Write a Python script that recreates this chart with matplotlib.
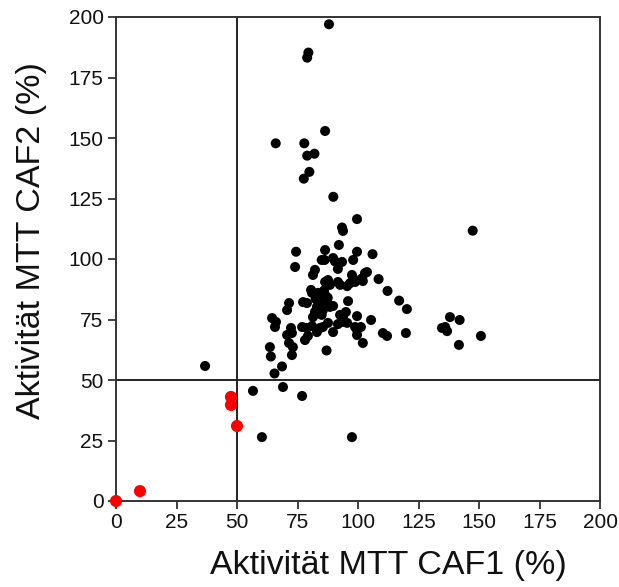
import numpy as np
import matplotlib.pyplot as plt

plt.rcParams['font.family'] = ['Liberation Sans', 'DejaVu Sans']

# Daten: Aktivität MTT CAF1 / CAF2 (%)
caf1_black = [88, 79.5, 79, 86.4, 66, 77.8, 82, 79, 79.9, 77.6, 89.8,
              99.6, 93.4, 93.8, 74.4, 74, 92.1, 86.4, 99.6, 106, 85, 86.2,
              89.7, 90.5, 93.4, 98, 91.7, 82.2, 81.4, 103.7, 102.9, 97.5, 98,
              108.5, 86.4, 87.6, 88.4, 91.7, 92.6, 95.5, 96.7, 98.8, 101.7,
              102, 80.6, 81, 112.2, 117, 120.2, 71.5, 70.7, 77.3, 78.9, 84.3,
              85.5, 87.2, 88.4, 89.7, 95.9, 83, 82.2, 81.4, 83.5, 85.5, 85,
              95, 93.8, 92.6, 99.6, 105.4, 64.5, 66.1, 65.7, 72.3, 70.7, 72.7,
              76.9, 78.9, 81, 83, 84.3, 85.5, 87.6, 89.7, 91.7, 93.8, 95.5,
              98.8, 99.6, 101.2, 99.6, 110.3, 112, 119.8, 71.5, 73.1, 72.7,
              78.1, 79.3, 102, 87, 63.6, 64, 68.6, 65.5, 147.4, 138, 142,
              134.7, 136, 136.8, 141.7, 150.8, 36.8, 56.6, 69, 76.9, 60.3,
              97.5, 83.5, 86, 84, 86.5, 82.5, 87.5]
caf2_black = [197, 185.3, 183.2, 152.9, 147.8, 147.8, 143.5, 142.7, 136,
              133.2, 125.7, 116.5, 113, 111.6, 103, 96.7, 105.8, 103.7, 103,
              102, 99.6, 99.6, 100.4, 99, 98.8, 99.6, 95.9, 95.5, 93.4, 94.6,
              94.2, 93.4, 92.1, 91.7, 90.5, 91.3, 89.3, 90.5, 89.3, 88.8, 90,
              90.5, 92, 90.9, 87.2, 86, 86.8, 82.8, 79.3, 81.8, 78.9, 82.2,
              81.8, 84.3, 83, 81.8, 80.2, 80.6, 82.6, 80.2, 78.1, 76, 77.7,
              78.9, 76.9, 78.1, 76, 76.9, 76.4, 74.8, 75.6, 74, 71.9, 71.5,
              68.6, 69.4, 71.9, 71.5, 72.3, 69.8, 71.5, 71.9, 73.6, 69.8, 73.1,
              74, 73.6, 71.9, 70.7, 71.9, 68.6, 69.4, 68.2, 69.4, 65.3, 63.6,
              60.3, 66.5, 68.2, 65.3, 62.2, 63.6, 59.7, 55.6, 52.7, 111.7, 76,
              74.8, 71.5, 71.9, 70.2, 64.5, 68.2, 55.8, 45.5, 47.1, 43.4, 26.4,
              26.4, 86, 87, 82, 85, 83.5, 84]

caf1_red = [0, 9.9, 47.5, 47.5, 50]
caf2_red = [0, 4.1, 43, 39.7, 31]

ticks = [0, 25, 50, 75, 100, 125, 150, 175, 200]

fig = plt.figure(figsize=(6.19, 5.87), dpi=100)
ax = fig.add_axes([116/619, 1 - 501/587, 484/619, 484/587])

# Schwellenlinien bei 50 %
ax.axvline(50, color='#222222', lw=1.4, zorder=1)
ax.axhline(50, color='#222222', lw=1.4, zorder=1)

ax.scatter(caf1_black, caf2_black, s=52, color='black', edgecolors='none', zorder=3)
ax.scatter(caf1_red, caf2_red, s=76, color='#ff0000', edgecolors='none', zorder=4,
           clip_on=False)

ax.set_xlim(0, 200)
ax.set_ylim(0, 200)
ax.set_xticks(ticks)
ax.set_yticks(ticks)
ax.tick_params(direction='out', length=6, width=1.3, color='#333333',
               labelsize=15, labelcolor='#111111', pad=3)

for sp in ax.spines.values():
    sp.set_linewidth(1.4)
    sp.set_color('#333333')

ax.set_xlabel('Aktivität MTT CAF1 (%)', fontsize=24.5, color='#111111')
ax.set_ylabel('Aktivität MTT CAF2 (%)', fontsize=24.5, color='#111111')
ax.xaxis.set_label_coords(0.562, -0.101)
ax.yaxis.set_label_coords(-0.143, 0.539)

fig.savefig('out.png', dpi=100)
